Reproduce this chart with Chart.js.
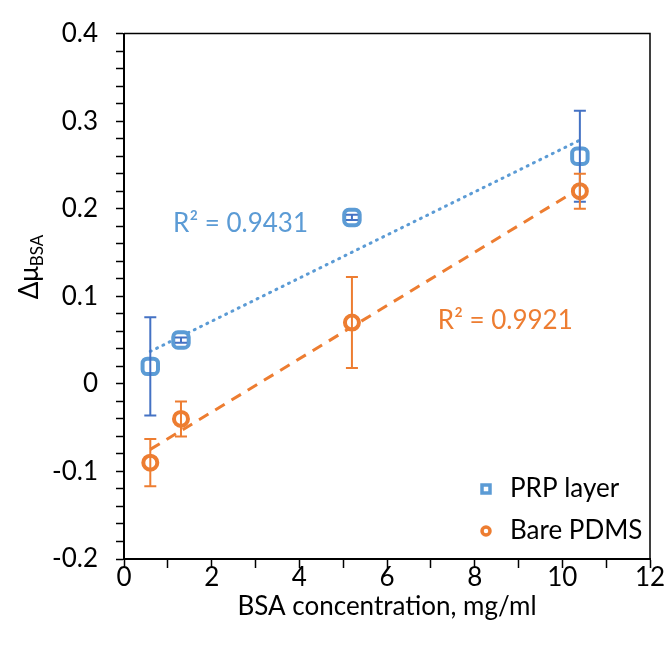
<!DOCTYPE html>
<html><head><meta charset="utf-8">
<script src="https://cdn.jsdelivr.net/npm/chart.js@4.4.0/dist/chart.umd.min.js"></script>
<style>html,body{margin:0;padding:0;background:#fff;}#wrap{width:667px;height:649px;}</style>
</head><body><div id="wrap"><canvas id="c" width="667" height="649"></canvas></div>
<script>
// ---- data ----
const concentrations = [0.6, 1.3, 5.2, 10.4];
const prpValues = [0.02, 0.05, 0.19, 0.26];
const prpErrors = [0.056, 0.003, 0.003, 0.052];
const bareValues = [-0.09, -0.04, 0.07, 0.22];
const bareErrors = [0.027, 0.02, 0.052, 0.02];
const seriesLabels = ['PRP layer', 'Bare PDMS'];
const r2Labels = ['R² = 0.9431', 'R² = 0.9921'];
const xTickLabels = [0, 2, 4, 6, 8, 10, 12];
const yTickLabels = [-0.2, -0.1, 0, 0.1, 0.2, 0.3, 0.4];
const xTitle = 'BSA concentration, mg/ml';
const yTitleMain = 'Δμ';
const yTitleSub = 'BSA';

const FONT = 'Lato';
const FS = 26;
const BLUE = '#5B9BD5', BLUE_ERR = '#4472C4', ORANGE = '#ED7D31';

function pts(xs, ys) { return xs.map((x, i) => ({x: x, y: ys[i]})); }
function linFit(xs, ys) {
  const n = xs.length;
  const mx = xs.reduce((a, b) => a + b, 0) / n, my = ys.reduce((a, b) => a + b, 0) / n;
  let sxy = 0, sxx = 0;
  for (let i = 0; i < n; i++) { sxy += (xs[i] - mx) * (ys[i] - my); sxx += (xs[i] - mx) ** 2; }
  const m = sxy / sxx, b = my - m * mx;
  const x0 = Math.min(...xs), x1 = Math.max(...xs);
  return [{x: x0, y: m * x0 + b}, {x: x1, y: m * x1 + b}];
}

const errorBarPlugin = {
  id: 'errorBars',
  afterDatasetsDraw(chart) {
    const ctx = chart.ctx, xs = chart.scales.x, ys = chart.scales.y;
    chart.data.datasets.forEach(ds => {
      if (!ds.errors) return;
      ctx.save();
      ctx.strokeStyle = ds.errorColor; ctx.lineWidth = 2;
      ds.data.forEach((p, i) => {
        const e = ds.errors[i];
        const px = xs.getPixelForValue(p.x);
        const top = ys.getPixelForValue(p.y + e), bot = ys.getPixelForValue(p.y - e);
        ctx.beginPath();
        ctx.moveTo(px, top); ctx.lineTo(px, bot);
        ctx.moveTo(px - 6, top); ctx.lineTo(px + 6, top);
        ctx.moveTo(px - 6, bot); ctx.lineTo(px + 6, bot);
        ctx.stroke();
      });
      ctx.restore();
    });
  }
};

const decorPlugin = {
  id: 'decor',
  beforeDatasetsDraw(chart) {
    const ctx = chart.ctx, a = chart.chartArea;
    ctx.save();
    ctx.strokeStyle = '#000'; ctx.lineWidth = 1.5;
    ctx.beginPath();
    ctx.moveTo(a.left, a.top); ctx.lineTo(a.right, a.top); ctx.lineTo(a.right, a.bottom);
    ctx.stroke();
    ctx.restore();
  },
  afterDraw(chart) {
    const ctx = chart.ctx, a = chart.chartArea, xs = chart.scales.x, ys = chart.scales.y;
    ctx.save();
    // R² labels
    ctx.font = FS + 'px ' + FONT;
    ctx.textBaseline = 'middle'; ctx.textAlign = 'left';
    ctx.fillStyle = BLUE;
    ctx.fillText(r2Labels[0], xs.getPixelForValue(1.12), ys.getPixelForValue(0.183));
    ctx.fillStyle = ORANGE;
    ctx.fillText(r2Labels[1], xs.getPixelForValue(7.16), ys.getPixelForValue(0.072));
    // legend
    const lx = a.right - 164, tx = a.right - 140;
    const rows = [a.bottom - 70, a.bottom - 28];
    ctx.lineWidth = 3.5;
    ctx.strokeStyle = BLUE; ctx.fillStyle = '#fff';
    ctx.beginPath(); ctx.rect(lx - 4, rows[0] - 4, 8, 8); ctx.fill(); ctx.stroke();
    ctx.strokeStyle = ORANGE;
    ctx.beginPath(); ctx.arc(lx, rows[1], 4, 0, Math.PI * 2); ctx.fill(); ctx.stroke();
    ctx.fillStyle = '#000';
    ctx.fillText(seriesLabels[0], tx, rows[0]);
    ctx.fillText(seriesLabels[1], tx, rows[1]);
    // y title with subscript
    const mainFont = FS + 'px ' + FONT, subFont = Math.round(FS * 0.66) + 'px ' + FONT;
    ctx.font = mainFont; const w1 = ctx.measureText(yTitleMain).width;
    ctx.font = subFont; const w2 = ctx.measureText(yTitleSub).width;
    const total = w1 + w2;
    ctx.translate(38, 267);
    ctx.rotate(-Math.PI / 2);
    ctx.textAlign = 'left'; ctx.textBaseline = 'alphabetic';
    ctx.fillStyle = '#000';
    ctx.font = mainFont; ctx.fillText(yTitleMain, -total / 2, 0);
    ctx.font = subFont; ctx.fillText(yTitleSub, -total / 2 + w1, 5);
    ctx.restore();
  }
};

new Chart(document.getElementById('c'), {
  type: 'scatter',
  data: {
    datasets: [
      {label: seriesLabels[0], data: pts(concentrations, prpValues), errors: prpErrors, errorColor: BLUE_ERR,
       pointStyle: 'rectRounded', pointRadius: 9, pointBorderWidth: 4, borderColor: BLUE, backgroundColor: '#fff', order: 0},
      {label: seriesLabels[1], data: pts(concentrations, bareValues), errors: bareErrors, errorColor: ORANGE,
       pointStyle: 'circle', pointRadius: 7, pointBorderWidth: 4, borderColor: ORANGE, backgroundColor: '#fff', order: 0},
      {label: 'trend1', type: 'line', data: linFit(concentrations, prpValues), borderColor: BLUE, borderWidth: 3,
       borderDash: [1, 6], borderCapStyle: 'round', pointRadius: 0, fill: false, order: 2},
      {label: 'trend2', type: 'line', data: linFit(concentrations, bareValues), borderColor: ORANGE, borderWidth: 3,
       borderDash: [11, 8], pointRadius: 0, fill: false, order: 2}
    ]
  },
  options: {
    responsive: false, animation: false, devicePixelRatio: 1,
    layout: {padding: {top: 25, right: 17, left: 0, bottom: 0}},
    plugins: {legend: {display: false}, tooltip: {enabled: false}},
    scales: {
      x: {
        type: 'linear', min: 0, max: 12,
        afterFit(s) { s.height = 90; },
        ticks: {stepSize: 1, autoSkip: false, maxRotation: 0, padding: -6, color: '#000', font: {family: FONT, size: FS},
          callback: v => xTickLabels.some(t => Math.abs(t - v) < 1e-9) ? String(v) : ''},
        grid: {drawOnChartArea: false, tickLength: 9, color: '#000', tickWidth: 1.5},
        border: {color: '#000', width: 2},
        title: {display: true, text: xTitle, color: '#000', font: {family: FONT, size: FS}, padding: {top: 0, bottom: 27}}
      },
      y: {
        type: 'linear', min: -0.2, max: 0.4,
        afterFit(s) { s.width = 124; },
        ticks: {stepSize: 0.02, autoSkip: false, padding: 18, color: '#000', font: {family: FONT, size: FS},
          callback: v => { const t = yTickLabels.find(t => Math.abs(t - v) < 1e-6); return t === undefined ? '' : String(t); }},
        grid: {drawOnChartArea: false, tickLength: 8, color: '#000', tickWidth: 1.5},
        border: {color: '#000', width: 2}
      }
    }
  },
  plugins: [errorBarPlugin, decorPlugin]
});
</script></body></html>
